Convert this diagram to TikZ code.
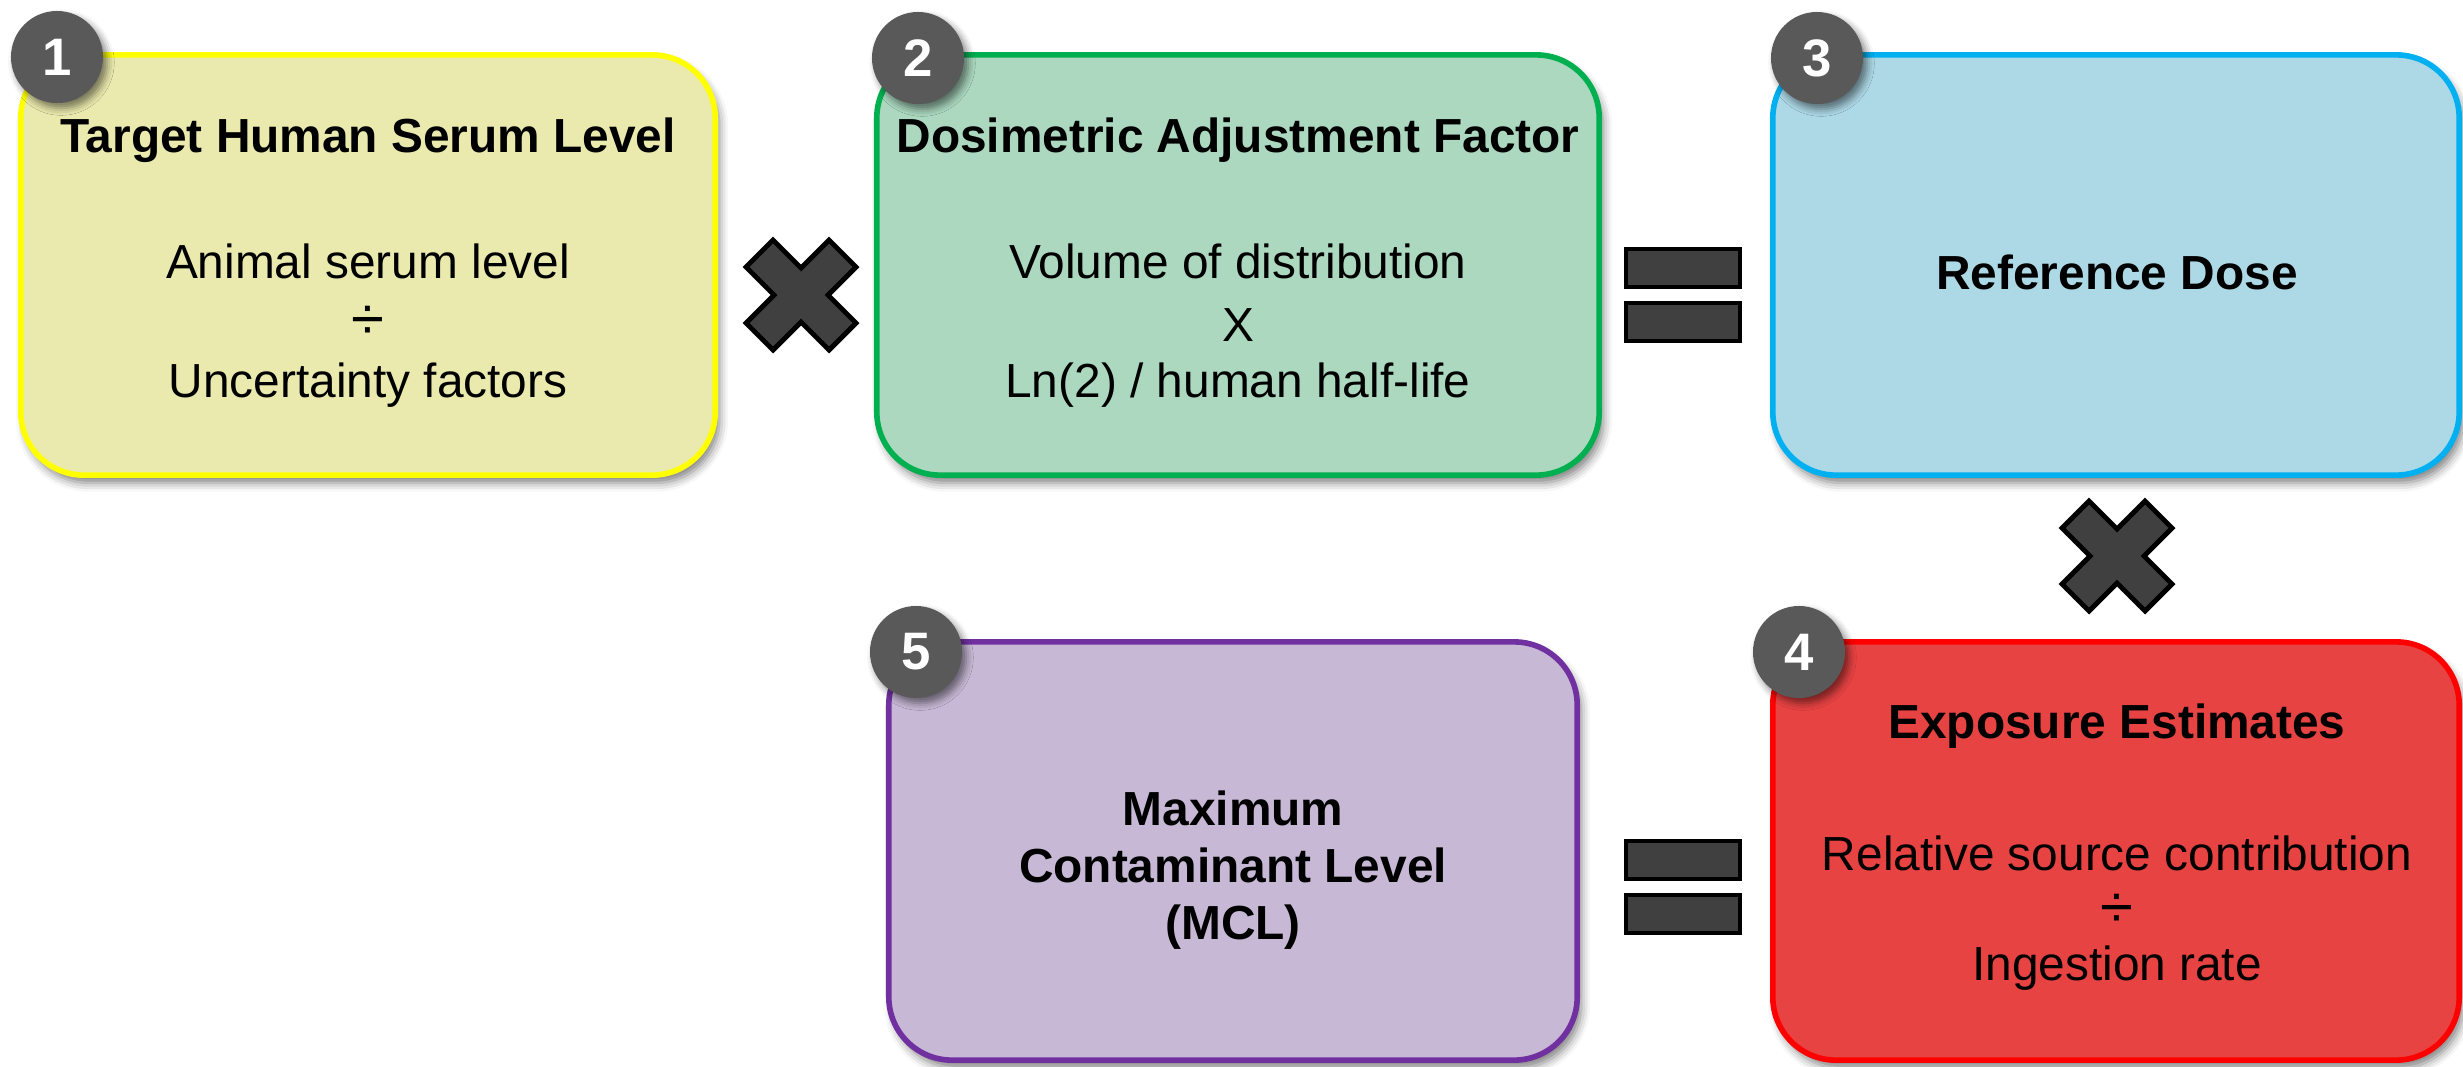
\documentclass[tikz,border=0pt]{standalone}
\usepackage{fontspec}
\setmainfont{Liberation Sans}
\usetikzlibrary{shadows.blur}
\definecolor{yfill}{HTML}{EAEAAE}
\definecolor{ydraw}{HTML}{FFFF00}
\definecolor{gfill}{HTML}{ABD8BF}
\definecolor{gdraw}{HTML}{00B050}
\definecolor{bfill}{HTML}{ADD8E6}
\definecolor{bdraw}{HTML}{00B0F0}
\definecolor{rfill}{HTML}{E84343}
\definecolor{rdraw}{HTML}{FF0000}
\definecolor{pfill}{HTML}{C7B8D5}
\definecolor{pdraw}{HTML}{7030A0}
\definecolor{badgegray}{HTML}{595959}
\definecolor{opgray}{HTML}{404040}
\begin{document}
\begin{tikzpicture}[x=0.01cm,y=-0.01cm,
  every node/.style={font=\fontsize{13.6}{17.4}\selectfont},
  box/.style={rectangle, rounded corners=0.63cm, line width=1.6pt, inner sep=0pt,
    blur shadow={shadow xshift=1.2pt, shadow yshift=-2.2pt, shadow blur radius=2.5pt, shadow opacity=50}},
  badge/.style={circle, fill=badgegray, minimum size=0.92cm, inner sep=0pt, text=white,
    font=\fontsize{15}{18}\bfseries\selectfont,
    blur shadow={shadow xshift=1.2pt, shadow yshift=-1.5pt, shadow blur radius=2pt, shadow opacity=50}},
  title/.style={font=\fontsize{13.6}{16.3}\bfseries\selectfont, align=center},
  body/.style={align=center},
  divsign/.style={font=\fontsize{17}{20}\selectfont},
  opstyle/.style={fill=opgray, draw=black, line width=1.4pt, line join=miter},
  timessign/.pic={\path[opstyle] (0,-27) -- (28,-55) -- (55,-28) -- (27,0) -- (55,28) -- (28,55)
      -- (0,27) -- (-28,55) -- (-55,28) -- (-27,0) -- (-55,-28) -- (-28,-55) -- cycle;},
  equalsign/.pic={\path[opstyle] (-57,-46) rectangle (57,-8); \path[opstyle] (-57,8) rectangle (57,46);}
]
\useasboundingbox (0,0) rectangle (2463,1066);

% boxes
\node[box, fill=yfill, draw=ydraw, minimum width=6.94cm, minimum height=4.20cm] (b1) at (368,265) {};
\node[box, fill=gfill, draw=gdraw, minimum width=7.22cm, minimum height=4.20cm] (b2) at (1238,265) {};
\node[box, fill=bfill, draw=bdraw, minimum width=6.86cm, minimum height=4.20cm] (b3) at (2116,265) {};
\node[box, fill=rfill, draw=rdraw, minimum width=6.86cm, minimum height=4.18cm] (b4) at (2116,851) {};
\node[box, fill=pfill, draw=pdraw, minimum width=6.88cm, minimum height=4.18cm] (b5) at (1233,851) {};

% badges
\node[badge] (n1) at (57,57) {1};
\node[badge] (n2) at (918,58) {2};
\node[badge] (n3) at (1817,58) {3};
\node[badge] (n4) at (1799,652) {4};
\node[badge] (n5) at (916,652) {5};

% texts box 1
\node[title] (t1) at (368,140) {Target Human Serum Level};
\node[body] (t1a) at (368,261) {Animal serum level};
\node[body, divsign] (t1b) at (368,323) {÷};
\node[body] (t1c) at (368,385) {Uncertainty factors};
% box 2
\node[title] (t2) at (1238,140) {Dosimetric Adjustment Factor};
\node[body] (t2a) at (1238,261) {Volume of distribution};
\node[body] (t2b) at (1238,325) {X};
\node[body] (t2c) at (1238,385) {Ln(2) / human half-life};
% box 3
\node[title] (t3) at (2117,272) {Reference Dose};
% box 4
\node[title] (t4) at (2117,726) {Exposure Estimates};
\node[body] (t4a) at (2117,853) {Relative source contribution};
\node[body, divsign] (t4b) at (2117,911) {÷};
\node[body] (t4c) at (2117,968) {Ingestion rate};
% box 5
\node[title] (t5) at (1233,870) {Maximum\\Contaminant Level\\(MCL)};

% operators
\coordinate (op1) at (801,295);
\coordinate (op2) at (1683,295);
\coordinate (op3) at (2117,556);
\coordinate (op4) at (1683,887);
\pic at (op1) {timessign};
\pic at (op2) {equalsign};
\pic at (op3) {timessign};
\pic at (op4) {equalsign};
\end{tikzpicture}
\end{document}
